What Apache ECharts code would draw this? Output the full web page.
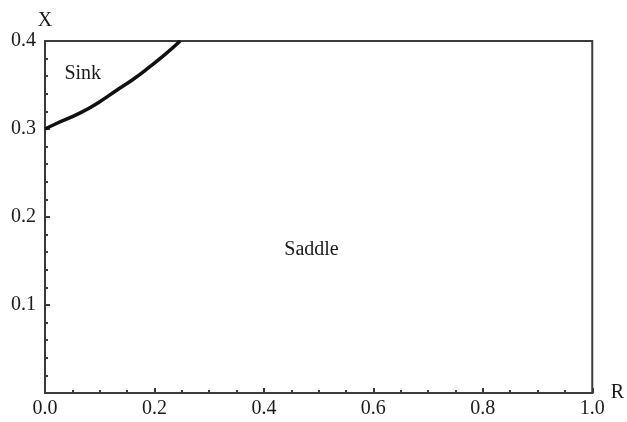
<!DOCTYPE html>
<html>
<head>
<meta charset="utf-8">
<script src="https://cdn.jsdelivr.net/npm/echarts@6/dist/echarts.min.js"></script>
<style>html,body{margin:0;padding:0;background:#fff;}#c{width:627px;height:422px;}</style>
</head>
<body>
<div id="c"></div>
<script>
// Boundary curve between Sink and Saddle regions
const curveR = [0.0, 0.02, 0.0635, 0.10, 0.131, 0.16, 0.19, 0.22, 0.247];
const curveX = [0.300, 0.306, 0.318, 0.331, 0.344, 0.356, 0.370, 0.385, 0.400];
const regionNames = ['Sink', 'Saddle'];
const regionR = [0.069, 0.487];
const regionX = [0.363, 0.163];
const xTicks = [0.0, 0.2, 0.4, 0.6, 0.8, 1.0];
const yTicks = [0.1, 0.2, 0.3, 0.4];

const serif = '"Liberation Serif", "DejaVu Serif", serif';
const txt = '#1a1a1a';
const axisCol = '#3a3a3a';

const chart = echarts.init(document.getElementById('c'), null, {renderer: 'canvas'});
chart.setOption({
  animation: false,
  backgroundColor: '#fff',
  grid: {left: 45, right: 30, top: 41, bottom: 29, show: true, borderColor: axisCol, borderWidth: 2, backgroundColor: 'transparent'},
  xAxis: {
    type: 'value', min: 0, max: 1, interval: 0.2,
    name: 'R', nameLocation: 'end', nameGap: 18,
    nameTextStyle: {fontFamily: serif, fontSize: 20, color: txt, verticalAlign: 'middle', padding: [0, 0, 14, 0]},
    axisLine: {show: true, lineStyle: {color: axisCol, width: 2}},
    axisTick: {show: true, inside: true, length: 5, lineStyle: {color: axisCol, width: 2}},
    minorTick: {show: true, splitNumber: 4, length: 3, lineStyle: {color: axisCol, width: 2}},
    splitLine: {show: false},
    axisLabel: {fontFamily: serif, fontSize: 20, color: txt, margin: 6,
      formatter: v => xTicks.some(t => Math.abs(t - v) < 1e-9) ? v.toFixed(1) : ''}
  },
  yAxis: {
    type: 'value', min: 0, max: 0.4, interval: 0.1,
    name: 'X', nameLocation: 'end', nameGap: 10,
    nameTextStyle: {fontFamily: serif, fontSize: 20, color: txt, align: 'center'},
    axisLine: {show: true, lineStyle: {color: axisCol, width: 2}},
    axisTick: {show: true, inside: true, length: 5, lineStyle: {color: axisCol, width: 2}},
    minorTick: {show: true, splitNumber: 5, length: 3, lineStyle: {color: axisCol, width: 2}},
    splitLine: {show: false},
    axisLabel: {fontFamily: serif, fontSize: 20, color: txt, margin: 9,
      formatter: v => yTicks.some(t => Math.abs(t - v) < 1e-9) ? v.toFixed(1) : ''}
  },
  series: [
    {
      type: 'line', smooth: true, symbol: 'none',
      data: curveR.map((r, i) => [r, curveX[i]]),
      lineStyle: {color: '#111', width: 3.5}
    },
    {
      type: 'scatter', symbolSize: 0, silent: true,
      itemStyle: {opacity: 1},
      data: regionNames.map((n, i) => ({name: n, value: [regionR[i], regionX[i]]})),
      label: {show: true, position: 'inside', formatter: p => p.name, opacity: 1,
        fontFamily: serif, fontSize: 20, color: txt, textBorderWidth: 0}
    }
  ]
});
</script>
</body>
</html>
